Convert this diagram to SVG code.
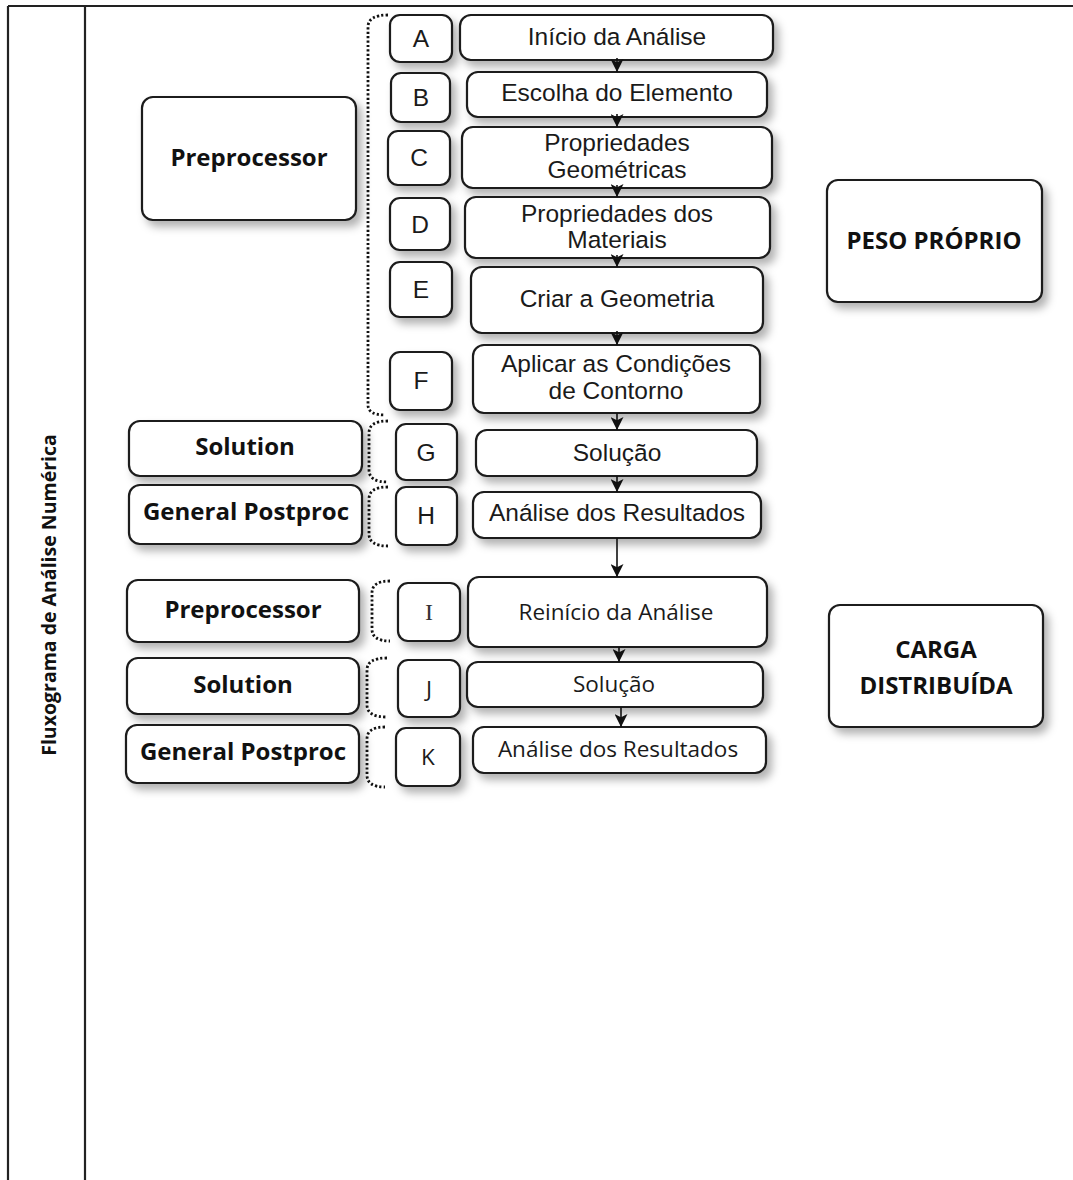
<svg xmlns="http://www.w3.org/2000/svg" width="1073" height="1180" viewBox="0 0 1073 1180">
<style>
.box{fill:#fff;stroke:#1a1a1a;stroke-width:2.2;filter:url(#sh)}
.ar{font-family:"Liberation Sans",Arial,sans-serif;font-size:24.5px;fill:#1a1a1a;text-anchor:middle}
.os{font-family:"Open Sans","Noto Sans",sans-serif;font-size:22.5px;fill:#1a1a1a;text-anchor:middle}
.bd{font-family:"Open Sans","Noto Sans",sans-serif;font-weight:bold;font-size:24px;fill:#111;text-anchor:middle}
.br{fill:none;stroke:#111;stroke-width:2.8;stroke-dasharray:2.2 2.2}
.cn{stroke:#111;stroke-width:1.6;fill:none;marker-end:url(#ah)}
.fr{stroke:#222;stroke-width:2.2;fill:none}
</style>
<defs>
<filter id="sh" x="-20%" y="-30%" width="150%" height="180%">
<feDropShadow dx="5" dy="6" stdDeviation="4" flood-color="#000" flood-opacity="0.3"/>
</filter>
<marker id="ah" viewBox="0 0 12 12" refX="12" refY="6" markerWidth="13" markerHeight="13" markerUnits="userSpaceOnUse" orient="auto">
<path d="M0,0 L12,6 L0,12 L3,6 z" fill="#111"/>
</marker>
</defs>
<rect width="1073" height="1180" fill="#fff"/>
<g id="frame">
<line class="fr" x1="8" y1="6" x2="1073" y2="6"/>
<line class="fr" x1="8" y1="6" x2="8" y2="1180"/>
<line class="fr" x1="85" y1="6" x2="85" y2="1180"/>
<text transform="translate(56,595) rotate(-90)" font-family="'Open Sans','Noto Sans',sans-serif" font-weight="bold" font-size="19.5" fill="#111" text-anchor="middle">Fluxograma de Análise Numérica</text>
</g>
<g id="brackets">
<path class="br" d="M388,15 Q368,15 368,27 L368,405 Q368,415 385,415"/>
<path class="br" d="M388,421 Q369,421 369,433 L369,470 Q369,482 388,482"/>
<path class="br" d="M388,487 Q369,487 369,499 L369,534 Q369,546 388,546"/>
<path class="br" d="M390,581 Q372,581 372,593 L372,629 Q372,641 390,641"/>
<path class="br" d="M387,658 Q367,658 367,670 L367,705 Q367,717 387,717"/>
<path class="br" d="M385,727 Q367,727 367,739 L367,775 Q367,787 385,787"/>
</g>
<g id="n-preproc1"><rect class="box" x="142" y="97" width="214" height="123" rx="11"/><text class="bd" x="249" y="166">Preprocessor</text></g>
<g id="n-solution1"><rect class="box" x="129" y="421" width="233" height="55" rx="11"/><text class="bd" x="245" y="455">Solution</text></g>
<g id="n-post1"><rect class="box" x="129" y="485" width="233" height="59" rx="11"/><text class="bd" x="246" y="520">General Postproc</text></g>
<g id="n-preproc2"><rect class="box" x="127" y="580" width="232" height="62" rx="11"/><text class="bd" x="243" y="618">Preprocessor</text></g>
<g id="n-solution2"><rect class="box" x="127" y="658" width="232" height="56" rx="11"/><text class="bd" x="243" y="693">Solution</text></g>
<g id="n-post2"><rect class="box" x="126" y="725" width="233" height="58" rx="11"/><text class="bd" x="243" y="760">General Postproc</text></g>
<g id="n-A"><rect class="box" x="390" y="15" width="62" height="47" rx="10"/><text class="ar" x="421" y="47">A</text></g>
<g id="n-B"><rect class="box" x="391" y="73" width="59" height="49" rx="10"/><text class="ar" x="421" y="106">B</text></g>
<g id="n-C"><rect class="box" x="388" y="131" width="62" height="54" rx="10"/><text class="ar" x="419" y="166">C</text></g>
<g id="n-D"><rect class="box" x="390" y="198" width="60" height="52" rx="10"/><text class="ar" x="420" y="233">D</text></g>
<g id="n-E"><rect class="box" x="390" y="262" width="62" height="55" rx="10"/><text class="ar" x="421" y="298">E</text></g>
<g id="n-F"><rect class="box" x="390" y="352" width="62" height="58" rx="10"/><text class="ar" x="421" y="389">F</text></g>
<g id="n-G"><rect class="box" x="396" y="424" width="61" height="56" rx="10"/><text class="ar" x="426" y="461">G</text></g>
<g id="n-H"><rect class="box" x="396" y="487" width="61" height="58" rx="10"/><text class="ar" x="426" y="524">H</text></g>
<g id="n-I"><rect class="box" x="398" y="583" width="62" height="58" rx="10"/><text x="429" y="620" font-family="'Liberation Serif',serif" font-size="24" fill="#333" text-anchor="middle">I</text></g>
<g id="n-J"><rect class="box" x="398" y="660" width="62" height="57" rx="10"/><text class="os" x="429" y="697">J</text></g>
<g id="n-K"><rect class="box" x="396" y="728" width="64" height="58" rx="10"/><text class="os" x="428" y="765">K</text></g>
<g id="n-A1"><rect class="box" x="460" y="15" width="313" height="45" rx="11"/><text class="ar" x="617" y="45">Início da Análise</text></g>
<g id="n-B1"><rect class="box" x="467" y="72" width="300" height="45" rx="11"/><text class="ar" x="617" y="101">Escolha do Elemento</text></g>
<g id="n-C1"><rect class="box" x="462" y="127" width="310" height="61" rx="11"/><text class="ar" x="617" y="151">Propriedades</text><text class="ar" x="617" y="178">Geométricas</text></g>
<g id="n-D1"><rect class="box" x="465" y="197" width="305" height="61" rx="11"/><text class="ar" x="617" y="222">Propriedades dos</text><text class="ar" x="617" y="248">Materiais</text></g>
<g id="n-E1"><rect class="box" x="471" y="267" width="292" height="66" rx="11"/><text class="ar" x="617" y="307">Criar a Geometria</text></g>
<g id="n-F1"><rect class="box" x="473" y="345" width="287" height="68" rx="11"/><text class="ar" x="616" y="372">Aplicar as Condições</text><text class="ar" x="616" y="399">de Contorno</text></g>
<g id="n-G1"><rect class="box" x="476" y="430" width="281" height="46" rx="11"/><text class="ar" x="617" y="461">Solução</text></g>
<g id="n-H1"><rect class="box" x="473" y="492" width="288" height="46" rx="11"/><text class="ar" x="617" y="521">Análise dos Resultados</text></g>
<g id="n-I1"><rect class="box" x="468" y="577" width="299" height="70" rx="11"/><text class="os" x="616" y="620">Reinício da Análise</text></g>
<g id="n-J1"><rect class="box" x="467" y="662" width="296" height="45" rx="11"/><text class="os" x="614" y="692">Solução</text></g>
<g id="n-K1"><rect class="box" x="473" y="727" width="293" height="46" rx="11"/><text class="os" x="618" y="757">Análise dos Resultados</text></g>
<g id="n-peso"><rect class="box" x="827" y="180" width="215" height="122" rx="11"/><text class="bd" x="934" y="249" font-size="22">PESO PRÓPRIO</text></g>
<g id="n-carga"><rect class="box" x="829" y="605" width="214" height="122" rx="11"/><text class="bd" x="936" y="658" font-size="22">CARGA</text><text class="bd" x="936" y="694" font-size="22">DISTRIBUÍDA</text></g>
<g id="connectors">
<line class="cn" x1="617" y1="58" x2="617" y2="72"/>
<line class="cn" x1="617" y1="114" x2="617" y2="127"/>
<line class="cn" x1="617" y1="185" x2="617" y2="197"/>
<line class="cn" x1="617" y1="255" x2="617" y2="267"/>
<line class="cn" x1="617" y1="331" x2="617" y2="345"/>
<line class="cn" x1="617" y1="413" x2="617" y2="430"/>
<line class="cn" x1="617" y1="476" x2="617" y2="492"/>
<line class="cn" x1="617" y1="538" x2="617" y2="577"/>
<line class="cn" x1="619" y1="647" x2="619" y2="662"/>
<line class="cn" x1="621" y1="707" x2="621" y2="727"/>
</g>
</svg>
